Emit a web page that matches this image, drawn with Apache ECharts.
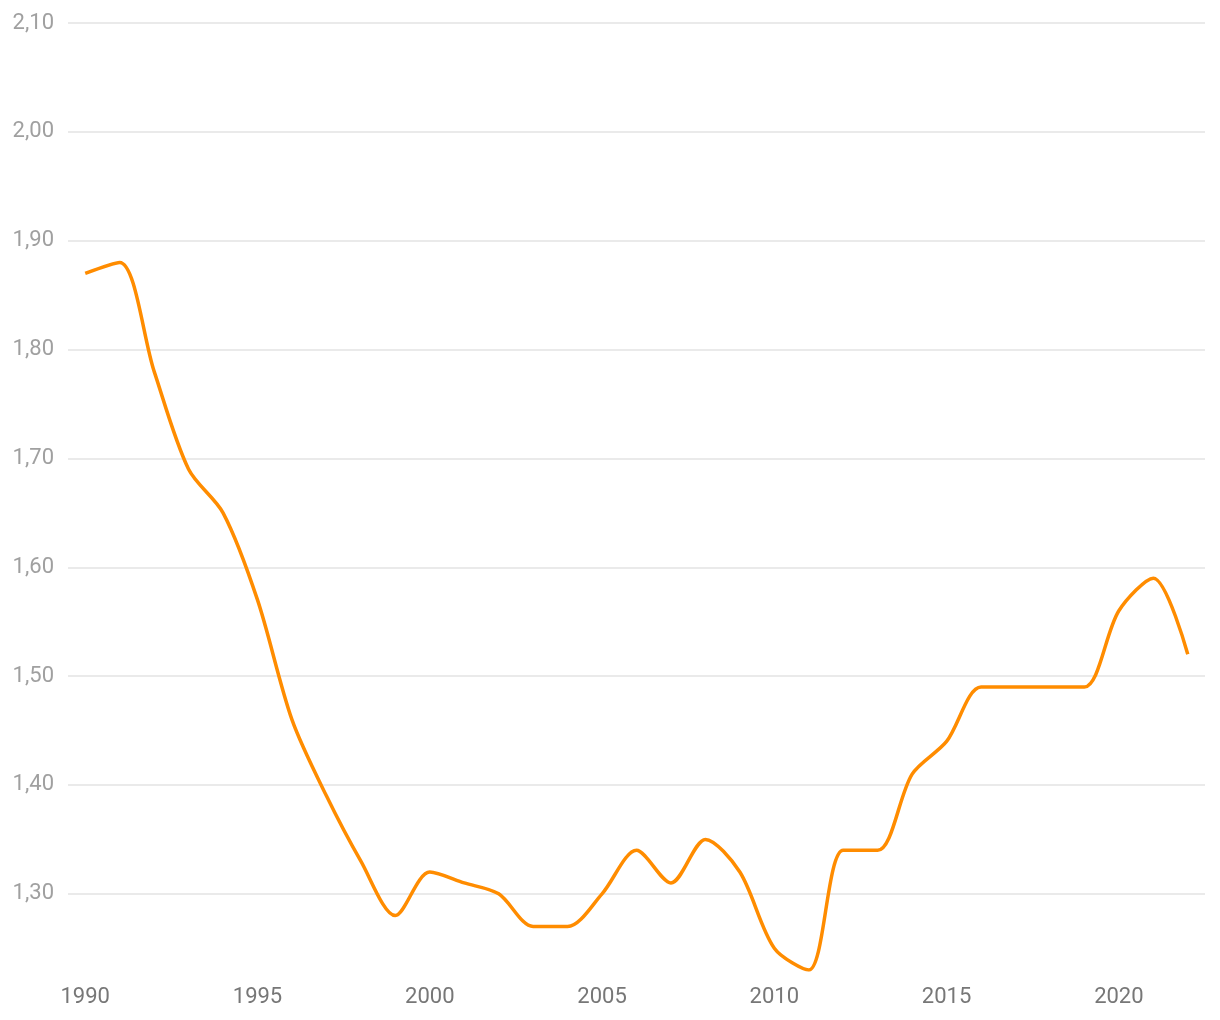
<!DOCTYPE html>
<html><head><meta charset="utf-8">
<script src="https://cdn.jsdelivr.net/npm/echarts@6/dist/echarts.min.js"></script>
<style>html,body{margin:0;padding:0;background:#fff}#c{width:1220px;height:1020px}</style>
</head><body><div id="c"></div>
<script>
const years = ['1990','1991','1992','1993','1994','1995','1996','1997','1998','1999','2000','2001','2002','2003','2004','2005','2006','2007','2008','2009','2010','2011','2012','2013','2014','2015','2016','2017','2018','2019','2020','2021','2022'];
const values = [1.87,1.88,1.78,1.69,1.65,1.57,1.46,1.39,1.33,1.28,1.32,1.31,1.30,1.27,1.27,1.30,1.34,1.31,1.35,1.32,1.25,1.23,1.34,1.34,1.41,1.44,1.49,1.49,1.49,1.49,1.56,1.59,1.52];
const yMin = 1.23, yMax = 2.10;

const chart = echarts.init(document.getElementById('c'));
chart.setOption({
  animation: false,
  grid: {left: 68, right: 15, top: 23, bottom: 50, containLabel: false},
  xAxis: {
    type: 'category', data: years, boundaryGap: true,
    axisLine: {show: false}, axisTick: {show: false},
    axisLabel: {interval: 4, color: '#777', fontSize: 22, fontFamily: 'Roboto', margin: 16}
  },
  yAxis: {
    type: 'value', min: yMin, max: yMax, splitNumber: 9,
    axisLine: {show: false}, axisTick: {show: false},
    splitLine: {show: true, showMinLine: false, lineStyle: {color: '#e3e3e3', width: 1.5}},
    axisLabel: {
      color: '#a0a0a0', fontSize: 22, fontFamily: 'Roboto', margin: 14, showMinLabel: false,
      formatter: v => (Math.abs(v*10 - Math.round(v*10)) < 1e-6) ? v.toFixed(2).replace('.', ',') : ''
    }
  },
  series: [{
    type: 'line', data: values, smooth: 0.3, showSymbol: false,
    lineStyle: {color: '#ff8c00', width: 3.5}, itemStyle: {color: '#ff8c00'}
  }]
});
</script></body></html>
